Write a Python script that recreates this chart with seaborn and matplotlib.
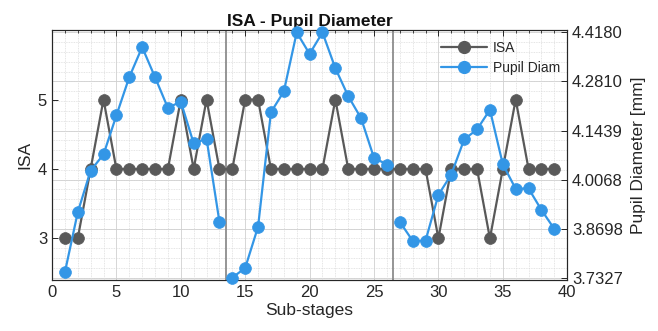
import numpy as np
import pandas as pd
import matplotlib
matplotlib.use("Agg")
import matplotlib.pyplot as plt
from matplotlib.lines import Line2D
from matplotlib.ticker import MultipleLocator, FixedLocator
import seaborn as sns

# ---- data ----
stages = list(range(1, 40))
isa = [3, 3, 4, 5, 4, 4, 4, 4, 4, 5, 4, 5, 4,
       4, 5, 5, 4, 4, 4, 4, 4, 5, 4, 4, 4, 4,
       4, 4, 4, 3, 4, 4, 4, 3, 4, 5, 4, 4, 4]
pupil = [3.7475, 3.9154, 4.0320, 4.0770, 4.1860, 4.2930, 4.3770, 4.2930, 4.2070, 4.2250, 4.1080, 4.1210, 3.8890,
         3.7327, 3.7600, 3.8750, 4.1950, 4.2530, 4.4180, 4.3580, 4.4180, 4.3180, 4.2400, 4.1780, 4.0675, 4.0490,
         3.8890, 3.8360, 3.8360, 3.9640, 4.0210, 4.1190, 4.1470, 4.2020, 4.0500, 3.9810, 3.9820, 3.9220, 3.8690]
segment = [1] * 13 + [2] * 13 + [3] * 13
stage_bounds = [13.5, 26.5]
isa_ticks = [3, 4, 5]
pupil_ticks = [3.7327, 3.8698, 4.0068, 4.1439, 4.2810, 4.4180]
pupil_ticklabels = ["3.7327", "3.8698", "4.0068", "4.1439", "4.2810", "4.4180"]
x_ticks = [0, 5, 10, 15, 20, 25, 30, 35, 40]

df = pd.DataFrame({"stage": stages, "isa": isa, "pupil": pupil, "seg": segment})

sns.set_style("white")
plt.rcParams["font.family"] = ["Liberation Sans", "DejaVu Sans"]

gray = "#595959"
blue = "#3396e6"
axc = "#262626"

fig = plt.figure(figsize=(6.58, 3.31), dpi=100)
ax = fig.add_axes([0.079, 0.154, 0.783, 0.755])
ax2 = ax.twinx()

xlim = (0, 40)
ylim_l = (2.4, 6.0)
ylim_r = (3.7262, 4.4245)

ax.set_xlim(*xlim)
ax.set_ylim(*ylim_l)
ax2.set_ylim(*ylim_r)

def r2l(v):
    return ylim_l[0] + (v - ylim_r[0]) / (ylim_r[1] - ylim_r[0]) * (ylim_l[1] - ylim_l[0])

step = pupil_ticks[1] - pupil_ticks[0]
minor_vals = np.arange(pupil_ticks[0] - step, pupil_ticks[-1] + step, step / 5)
for v in minor_vals:
    if ylim_r[0] <= v <= ylim_r[1]:
        ax.axhline(r2l(v), color="#dcdcdc", lw=0.6, ls=(0, (1, 1)), zorder=0)
for v in pupil_ticks:
    ax.axhline(r2l(v), color="#d0d0d0", lw=0.6, zorder=0)
for xv in range(0, 41):
    if xv % 5 == 0:
        ax.axvline(xv, color="#d0d0d0", lw=0.6, zorder=0)
    else:
        ax.axvline(xv, color="#dcdcdc", lw=0.6, ls=(0, (1, 1)), zorder=0)

for b in stage_bounds:
    ax.axvline(b, color="#8c8c8c", lw=1.3, zorder=1)

sns.lineplot(data=df, x="stage", y="isa", ax=ax, color=gray, lw=1.6,
             marker="o", markersize=8.5, markeredgecolor=gray, markeredgewidth=0.5,
             legend=False, zorder=3)
sns.lineplot(data=df, x="stage", y="pupil", units="seg", estimator=None, ax=ax2,
             color=blue, lw=1.6, marker="o", markersize=8.5, markeredgecolor=blue,
             markeredgewidth=0.5, legend=False, zorder=3)
for ln in ax2.lines:
    ln.set_clip_on(False)

ax.set_xlim(*xlim)
ax.set_ylim(*ylim_l)
ax2.set_ylim(*ylim_r)
ax.set_xticks(x_ticks)
ax.xaxis.set_minor_locator(MultipleLocator(1))
ax.set_yticks(isa_ticks)
ax2.yaxis.set_major_locator(FixedLocator(pupil_ticks))
ax2.set_yticklabels(pupil_ticklabels)

for a in (ax, ax2):
    for s in a.spines.values():
        s.set_color(axc)
        s.set_linewidth(0.8)
    a.tick_params(direction="in", colors=axc, labelsize=12, length=4, width=0.7)
ax.tick_params(axis="x", which="both", top=True)
ax.tick_params(axis="x", which="minor", length=2, direction="in", colors=axc)
ax.tick_params(axis="y", left=True, right=False)
ax2.tick_params(axis="y", right=True, left=False)

ax.set_xlabel("Sub-stages", fontsize=12.5, color=axc, labelpad=2)
ax.set_ylabel("ISA", fontsize=12.5, color=axc, labelpad=4)
ax2.set_ylabel("Pupil Diameter [mm]", fontsize=12.5, color=axc, labelpad=6)
ax.set_title("ISA - Pupil Diameter", fontsize=12.5, fontweight="bold", color="#111111", pad=3)

handles = [Line2D([], [], color=gray, lw=1.6, marker="o", markersize=8.5),
           Line2D([], [], color=blue, lw=1.6, marker="o", markersize=8.5)]
ax2.legend(handles, ["ISA", "Pupil Diam"], loc="upper left", bbox_to_anchor=(0.742, 0.985),
           frameon=False, fontsize=10, handlelength=3.3, handletextpad=0.4,
           borderpad=0, labelspacing=0.45)

fig.savefig("out.png", dpi=100)
